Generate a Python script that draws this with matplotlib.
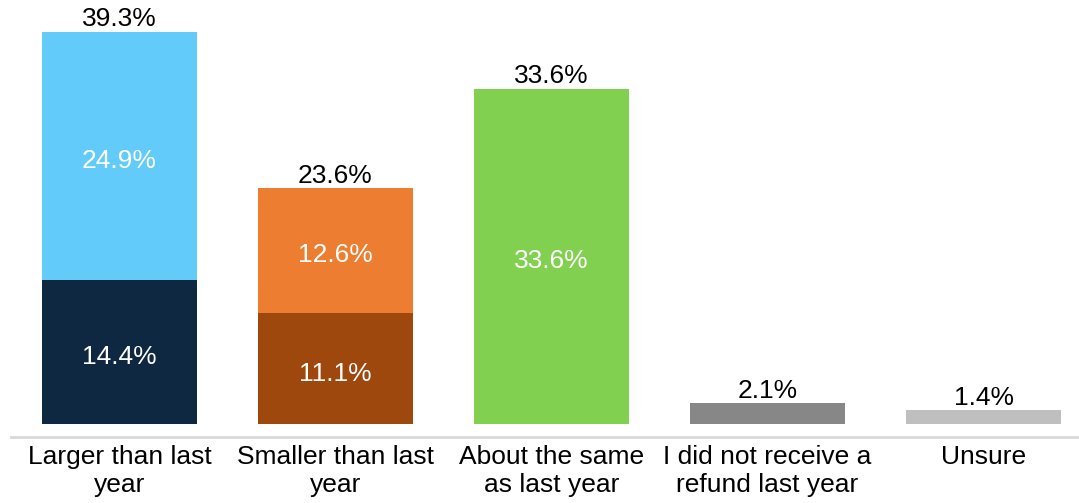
import numpy as np
import matplotlib.pyplot as plt

plt.rcParams['font.family'] = ['Liberation Sans', 'DejaVu Sans']

categories = ['Larger than last\nyear', 'Smaller than last\nyear', 'About the same\nas last year',
              'I did not receive a\nrefund last year', 'Unsure']
bottom_vals = [14.4, 11.1, 33.6, 2.1, 1.4]
top_vals = [24.9, 12.6, 0.0, 0.0, 0.0]
totals = [39.3, 23.6, 33.6, 2.1, 1.4]

bottom_colors = ['#0E2841', '#9E480E', '#82D050', '#878787', '#BFBFBF']
top_colors = ['#63CBFA', '#ED7D31', '#82D050', '#878787', '#BFBFBF']

fig = plt.figure(figsize=(10.79, 5.03), dpi=100)
ax = fig.add_axes([11 / 1079, 66 / 503, 1068 / 1079, 437 / 503])

x = np.arange(len(categories))
w = 0.718
ax.bar(x, bottom_vals, w, color=bottom_colors)
ax.bar(x, top_vals, w, bottom=bottom_vals, color=top_colors)

fs = 19
shift = -0.5  # nudge inner labels down a bit
for i in range(len(categories)):
    ax.text(x[i], totals[i] + 0.05, f'{totals[i]:.1f}%', ha='center', va='bottom',
            fontsize=fs, color='black')
    if top_vals[i] > 0:
        ax.text(x[i], bottom_vals[i] / 2 + shift, f'{bottom_vals[i]:.1f}%', ha='center',
                va='center', fontsize=fs, color='white')
        ax.text(x[i], bottom_vals[i] + top_vals[i] / 2 + shift, f'{top_vals[i]:.1f}%',
                ha='center', va='center', fontsize=fs, color='white')
    elif bottom_vals[i] > 10:
        ax.text(x[i], bottom_vals[i] / 2 + shift, f'{bottom_vals[i]:.1f}%', ha='center',
                va='center', fontsize=fs, color='white')

ax.set_xlim(-0.502, 4.442)
ax.set_ylim(-1.3, 42.5)
ax.set_xticks(x)
ax.set_xticklabels(categories, fontsize=fs, linespacing=1.2)
ax.tick_params(axis='x', length=0, pad=6)
ax.set_yticks([])
for s in ['top', 'right', 'left']:
    ax.spines[s].set_visible(False)
ax.spines['bottom'].set_color('#D9D9D9')
ax.spines['bottom'].set_linewidth(2)

fig.savefig('out.png', dpi=100)
